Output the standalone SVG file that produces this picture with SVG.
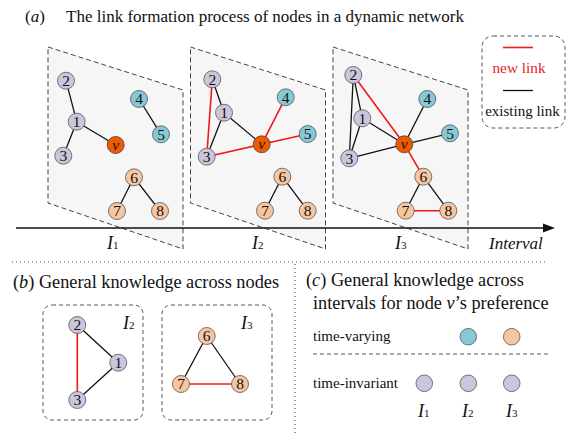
<svg xmlns="http://www.w3.org/2000/svg" width="572" height="436" viewBox="0 0 572 436" font-family="'Liberation Serif', 'Times New Roman', 'DejaVu Serif', serif">
<style>
text, tspan{font-family:'Liberation Serif','Times New Roman','DejaVu Serif',serif}
text{fill:#111}
.panel{fill:#f6f6f6;stroke:#444;stroke-width:1;stroke-dasharray:5,3}
.box{fill:none;stroke:#555;stroke-width:1;stroke-dasharray:4,3}
.e{stroke:#111;stroke-width:1.3}
.r{stroke:#f01818;stroke-width:1.6}
.p{fill:#cdc5dd;stroke:#555;stroke-width:0.8}
.b{fill:#86c8d6;stroke:#555;stroke-width:0.8}
.o{fill:#f7c59f;stroke:#555;stroke-width:0.8}
.v{fill:#ef5a00;stroke:#444;stroke-width:0.8}
.n{font-size:15.5px;text-anchor:middle}
.it{font-style:italic}
.t{font-size:17px}
.t2{font-size:18.3px}
.s{font-size:15px}
.dot{fill:none;stroke:#555;stroke-width:1.2;stroke-dasharray:1,3}
</style>

<!-- titles -->
<text class="t" x="25" y="22">(<tspan class="it">a</tspan>)</text>
<text class="t" x="66" y="22">The link formation process of  nodes in a dynamic network</text>

<!-- panels -->
<polygon class="panel" points="48,47 183,90 183,249 48,203"/>
<polygon class="panel" points="190.5,47 325.5,90 325.5,249 190.5,203"/>
<polygon class="panel" points="333,47 468,90 468,249 333,203"/>

<!-- axis -->
<g id="axis">
<line x1="16" y1="228" x2="546" y2="228" stroke="#111" stroke-width="1.3"/>
<polygon points="555,228 543,223.5 543,232.5" fill="#111"/>
<text x="107" y="249" font-size="18" class="it">I<tspan font-size="11" font-style="normal">1</tspan></text>
<text x="252" y="249" font-size="18" class="it">I<tspan font-size="11" font-style="normal">2</tspan></text>
<text x="395" y="249" font-size="18" class="it">I<tspan font-size="11" font-style="normal">3</tspan></text>
<text x="489" y="249" font-size="17" class="it">Interval</text>
</g>

<!-- connectors -->
<g id="connectors">
<line class="e" x1="66" y1="80.7" x2="76.7" y2="121.7"/>
<line class="e" x1="76.7" y1="121.7" x2="63.3" y2="155.7"/>
<line class="e" x1="76.7" y1="121.7" x2="115.7" y2="145"/>
<line class="e" x1="139" y1="99" x2="161" y2="134.3"/>
<line class="e" x1="134" y1="177.3" x2="117" y2="211"/>
<line class="e" x1="134" y1="177.3" x2="160" y2="211"/>
<line class="e" x1="212.3" y1="79.3" x2="224" y2="112.7"/>
<line class="e" x1="224" y1="112.7" x2="206.7" y2="156.7"/>
<line class="e" x1="224" y1="112.7" x2="261.7" y2="144.3"/>
<line class="r" x1="212.3" y1="79.3" x2="206.7" y2="156.7"/>
<line class="r" x1="206.7" y1="156.7" x2="261.7" y2="144.3"/>
<line class="r" x1="261.7" y1="144.3" x2="285.7" y2="97.3"/>
<line class="r" x1="261.7" y1="144.3" x2="307.7" y2="134"/>
<line class="e" x1="282.3" y1="176.7" x2="265" y2="210.7"/>
<line class="e" x1="282.3" y1="176.7" x2="307.7" y2="210.7"/>
<line class="e" x1="353.3" y1="75" x2="362.3" y2="118.3"/>
<line class="e" x1="353.3" y1="75" x2="349.3" y2="158.3"/>
<line class="e" x1="362.3" y1="118.3" x2="349.3" y2="158.3"/>
<line class="e" x1="362.3" y1="118.3" x2="404.3" y2="144.3"/>
<line class="e" x1="349.3" y1="158.3" x2="404.3" y2="144.3"/>
<line class="e" x1="404.3" y1="144.3" x2="427.3" y2="99"/>
<line class="e" x1="404.3" y1="144.3" x2="450" y2="133.3"/>
<line class="r" x1="353.3" y1="75" x2="404.3" y2="144.3"/>
<line class="r" x1="404.3" y1="144.3" x2="423.3" y2="176.7"/>
<line class="e" x1="423.3" y1="176.7" x2="405.7" y2="210.7"/>
<line class="e" x1="423.3" y1="176.7" x2="448.3" y2="210.7"/>
<line class="r" x1="405.7" y1="210.7" x2="448.3" y2="210.7"/>
<line class="r" x1="77.3" y1="325" x2="77.3" y2="400"/>
<line class="e" x1="77.3" y1="325" x2="118.3" y2="362.7"/>
<line class="e" x1="118.3" y1="362.7" x2="77.3" y2="400"/>
<line class="e" x1="206.7" y1="336" x2="181" y2="384"/>
<line class="e" x1="206.7" y1="336" x2="240" y2="384"/>
<line class="r" x1="181" y1="384" x2="240" y2="384"/>
</g>

<!-- panel 1 nodes -->
<g id="p1-n2"><circle class="p" cx="66" cy="80.7" r="8.5"/><text class="n" x="66" y="86">2</text></g>
<g id="p1-n1"><circle class="p" cx="76.7" cy="121.7" r="8.5"/><text class="n" x="76.7" y="127">1</text></g>
<g id="p1-n3"><circle class="p" cx="63.3" cy="155.7" r="8.5"/><text class="n" x="63.3" y="161">3</text></g>
<g id="p1-v"><circle class="v" cx="115.7" cy="145" r="8.5"/><text class="n it" x="115.7" y="149.5">v</text></g>
<g id="p1-n4"><circle class="b" cx="139" cy="99" r="8.5"/><text class="n" x="139" y="104.3">4</text></g>
<g id="p1-n5"><circle class="b" cx="161" cy="134.3" r="8.5"/><text class="n" x="161" y="139.6">5</text></g>
<g id="p1-n6"><circle class="o" cx="134" cy="177.3" r="8.5"/><text class="n" x="134" y="182.6">6</text></g>
<g id="p1-n7"><circle class="o" cx="117" cy="211" r="8.5"/><text class="n" x="117" y="216.3">7</text></g>
<g id="p1-n8"><circle class="o" cx="160" cy="211" r="8.5"/><text class="n" x="160" y="216.3">8</text></g>

<!-- panel 2 nodes -->
<g id="p2-n2"><circle class="p" cx="212.3" cy="79.3" r="8.5"/><text class="n" x="212.3" y="84.6">2</text></g>
<g id="p2-n1"><circle class="p" cx="224" cy="112.7" r="8.5"/><text class="n" x="224" y="118">1</text></g>
<g id="p2-n3"><circle class="p" cx="206.7" cy="156.7" r="8.5"/><text class="n" x="206.7" y="162">3</text></g>
<g id="p2-v"><circle class="v" cx="261.7" cy="144.3" r="8.5"/><text class="n it" x="261.7" y="148.8">v</text></g>
<g id="p2-n4"><circle class="b" cx="285.7" cy="97.3" r="8.5"/><text class="n" x="285.7" y="102.6">4</text></g>
<g id="p2-n5"><circle class="b" cx="307.7" cy="134" r="8.5"/><text class="n" x="307.7" y="139.3">5</text></g>
<g id="p2-n6"><circle class="o" cx="282.3" cy="176.7" r="8.5"/><text class="n" x="282.3" y="182">6</text></g>
<g id="p2-n7"><circle class="o" cx="265" cy="210.7" r="8.5"/><text class="n" x="265" y="216">7</text></g>
<g id="p2-n8"><circle class="o" cx="307.7" cy="210.7" r="8.5"/><text class="n" x="307.7" y="216">8</text></g>

<!-- panel 3 nodes -->
<g id="p3-n2"><circle class="p" cx="353.3" cy="75" r="8.5"/><text class="n" x="353.3" y="80.3">2</text></g>
<g id="p3-n1"><circle class="p" cx="362.3" cy="118.3" r="8.5"/><text class="n" x="362.3" y="123.6">1</text></g>
<g id="p3-n3"><circle class="p" cx="349.3" cy="158.3" r="8.5"/><text class="n" x="349.3" y="163.6">3</text></g>
<g id="p3-v"><circle class="v" cx="404.3" cy="144.3" r="8.5"/><text class="n it" x="404.3" y="148.8">v</text></g>
<g id="p3-n4"><circle class="b" cx="427.3" cy="99" r="8.5"/><text class="n" x="427.3" y="104.3">4</text></g>
<g id="p3-n5"><circle class="b" cx="450" cy="133.3" r="8.5"/><text class="n" x="450" y="138.6">5</text></g>
<g id="p3-n6"><circle class="o" cx="423.3" cy="176.7" r="8.5"/><text class="n" x="423.3" y="182">6</text></g>
<g id="p3-n7"><circle class="o" cx="405.7" cy="210.7" r="8.5"/><text class="n" x="405.7" y="216">7</text></g>
<g id="p3-n8"><circle class="o" cx="448.3" cy="210.7" r="8.5"/><text class="n" x="448.3" y="216">8</text></g>

<!-- legend -->
<g id="legend">
<rect class="box" x="482" y="36" width="83" height="92" rx="11"/>
<line class="r" x1="503" y1="47.5" x2="533" y2="47.5"/>
<text x="519" y="73" font-size="15.3" text-anchor="middle" style="fill:#f01818">new link</text>
<line class="e" x1="503" y1="90.5" x2="533" y2="90.5"/>
<text x="522.5" y="116" font-size="15" text-anchor="middle">existing link</text>
</g>

<!-- separators -->
<line class="dot" x1="12" y1="262" x2="548" y2="262"/>
<line class="dot" x1="295" y1="264" x2="295" y2="436"/>

<!-- (b) -->
<text class="t2" x="13" y="288">(<tspan class="it">b</tspan>) General knowledge across nodes</text>
<g id="b-box2">
<rect class="box" x="43" y="305" width="100" height="115" rx="9"/>
<text x="123" y="329" font-size="18" class="it">I<tspan font-size="11" font-style="normal">2</tspan></text>
</g>
<g id="b-box3">
<rect class="box" x="162" y="305" width="110" height="115" rx="9"/>
<text x="241" y="329" font-size="18" class="it">I<tspan font-size="11" font-style="normal">3</tspan></text>
</g>
<g id="b-n2"><circle class="p" cx="77.3" cy="325" r="8.5"/><text class="n" x="77.3" y="330.3">2</text></g>
<g id="b-n1"><circle class="p" cx="118.3" cy="362.7" r="8.5"/><text class="n" x="118.3" y="368">1</text></g>
<g id="b-n3"><circle class="p" cx="77.3" cy="400" r="8.5"/><text class="n" x="77.3" y="405.3">3</text></g>
<g id="b-n6"><circle class="o" cx="206.7" cy="336" r="8.5"/><text class="n" x="206.7" y="341.3">6</text></g>
<g id="b-n7"><circle class="o" cx="181" cy="384" r="8.5"/><text class="n" x="181" y="389.3">7</text></g>
<g id="b-n8"><circle class="o" cx="240" cy="384" r="8.5"/><text class="n" x="240" y="389.3">8</text></g>

<!-- (c) -->
<text class="t2" x="306" y="286">(<tspan class="it">c</tspan>) General  knowledge across</text>
<text class="t2" x="313" y="309">intervals for node <tspan class="it">v</tspan>’s preference</text>
<text class="s" x="313" y="341">time-varying</text>
<text class="s" x="313" y="388">time-invariant</text>
<line class="box" x1="313" y1="354" x2="548" y2="354"/>
<g id="c-tv2"><circle class="b" cx="468.3" cy="336.7" r="8.3"/></g>
<g id="c-tv3"><circle class="o" cx="511.7" cy="336.7" r="8.3"/></g>
<g id="c-ti1"><circle class="p" cx="424.3" cy="383.3" r="8.3"/></g>
<g id="c-ti2"><circle class="p" cx="468.3" cy="383.3" r="8.3"/></g>
<g id="c-ti3"><circle class="p" cx="511.7" cy="383.3" r="8.3"/></g>
<text x="418" y="417" font-size="18" class="it">I<tspan font-size="11" font-style="normal">1</tspan></text>
<text x="462" y="417" font-size="18" class="it">I<tspan font-size="11" font-style="normal">2</tspan></text>
<text x="506" y="417" font-size="18" class="it">I<tspan font-size="11" font-style="normal">3</tspan></text>
</svg>
